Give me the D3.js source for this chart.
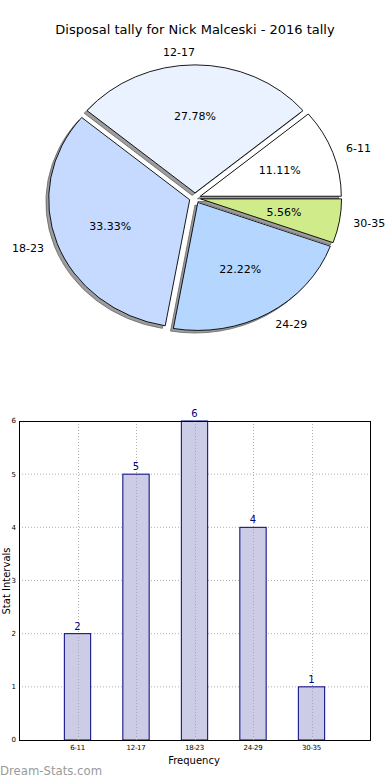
<!DOCTYPE html>
<html>
<head>
<meta charset="utf-8">
<script src="https://cdn.jsdelivr.net/npm/d3@7"></script>
<style>
  html, body { margin: 0; padding: 0; background: #fff; }
  svg { display: block; font-family: "DejaVu Sans", sans-serif; }
</style>
</head>
<body>
<svg id="chart" width="390" height="780"></svg>
<script>
// ---- data ----
const title = "Disposal tally for Nick Malceski - 2016 tally";
const categories = ["6-11", "12-17", "18-23", "24-29", "30-35"];
const counts = [2, 5, 6, 4, 1];
const sliceColors = ["#ffffff", "#eaf2ff", "#c6d9ff", "#b4d6ff", "#d0eb8a"];
const yTicks = [0, 1, 2, 3, 4, 5, 6];
const xLabel = "Frequency";
const yLabel = "Stat Intervals";
const watermark = "Dream-Stats.com";

const svg = d3.select("#chart");

// ---- title ----
svg.append("text").attr("x", 195).attr("y", 34).attr("text-anchor", "middle")
  .attr("font-size", 13).attr("fill", "#000").text(title);

// ---- pie ----
const cx = 195, cy = 198, rx = 141, ry = 128, explode = 0.04;
const sy = ry / rx;
const total = d3.sum(counts);
const pie = d3.pie().sort(null).startAngle(Math.PI / 2).endAngle(Math.PI / 2 - 2 * Math.PI);
const arcs = pie(counts);
const arc = d3.arc().innerRadius(0).outerRadius(rx);

const pg = svg.append("g").attr("transform", `translate(${cx},${cy}) scale(1,${sy})`);
arcs.forEach((a, i) => {
  const mid = (a.startAngle + a.endAngle) / 2;
  const ox = explode * rx * Math.sin(mid), oy = -explode * rx * Math.cos(mid);
  // shadow
  pg.append("path").attr("d", arc(a))
    .attr("transform", `translate(${ox - 0.02 * rx},${oy + 0.02 * rx})`)
    .attr("fill", "#8c8c8c").attr("fill-opacity", 0.85)
    .attr("stroke", "#666").attr("stroke-width", 0.8)
    .attr("vector-effect", "non-scaling-stroke");
  // wedge
  pg.append("path").attr("d", arc(a))
    .attr("transform", `translate(${ox},${oy})`)
    .attr("fill", sliceColors[i]).attr("stroke", "#000").attr("stroke-width", 0.9)
    .attr("vector-effect", "non-scaling-stroke");
});
// labels
arcs.forEach((a, i) => {
  const mid = (a.startAngle + a.endAngle) / 2;
  const ux = Math.sin(mid), uy = -Math.cos(mid);
  const bx = cx + explode * rx * ux, by = cy + explode * ry * uy;
  const lx = bx + 1.1 * rx * ux, ly = by + 1.1 * ry * uy;
  svg.append("text").attr("x", lx).attr("y", ly).attr("dy", "0.35em")
    .attr("text-anchor", ux > 0 ? "start" : "end")
    .attr("font-size", 11).text(categories[i]);
  const px = bx + 0.6 * rx * ux, py = by + 0.6 * ry * uy;
  svg.append("text").attr("x", px).attr("y", py).attr("dy", "0.35em")
    .attr("text-anchor", "middle").attr("font-size", 11)
    .text((counts[i] / total * 100).toFixed(2) + "%");
});

// ---- bar chart ----
const x0 = 19, x1 = 370, y0 = 740, y1 = 421;
const x = d3.scaleLinear().domain([0, categories.length + 1]).range([x0, x1]);
const y = d3.scaleLinear().domain([0, 6]).range([y0, y1]);
const barW = 0.45;
const bg = svg.append("g");

// grid
bg.selectAll(".hg").data(yTicks.filter(t => t > 0 && t < 6)).enter().append("line")
  .attr("x1", x0).attr("x2", x1).attr("y1", d => y(d)).attr("y2", d => y(d))
  .attr("stroke", "#b0b0b0").attr("stroke-dasharray", "1,2").attr("stroke-width", 1);
bg.selectAll(".vg").data(categories).enter().append("line")
  .attr("x1", (d, i) => Math.round(x(i + 1)) + 0.5).attr("x2", (d, i) => Math.round(x(i + 1)) + 0.5)
  .attr("y1", y0).attr("y2", y1)
  .attr("stroke", "#b0b0b0").attr("stroke-dasharray", "1,2").attr("stroke-width", 1);

// bars
bg.selectAll(".bar").data(counts).enter().append("rect")
  .attr("x", (d, i) => x(i + 1 - barW / 2)).attr("width", x(barW) - x(0))
  .attr("y", d => y(d)).attr("height", d => y0 - y(d))
  .attr("fill", "#cccce6").attr("stroke", "#000080").attr("stroke-width", 1);
bg.selectAll(".vg2").data(categories).enter().append("line")
  .attr("x1", (d, i) => Math.round(x(i + 1)) + 0.5).attr("x2", (d, i) => Math.round(x(i + 1)) + 0.5)
  .attr("y1", d => y0).attr("y2", (d, i) => y(counts[i]))
  .attr("stroke", "#a8a8b8").attr("stroke-dasharray", "1,2").attr("stroke-width", 1);

// value labels
bg.selectAll(".vl").data(counts).enter().append("text")
  .attr("x", (d, i) => x(i + 1)).attr("y", d => y(d) - 4)
  .attr("text-anchor", "middle").attr("font-size", 10).attr("fill", "#000080")
  .text(d => d);

// frame
bg.append("rect").attr("x", x0 + 0.5).attr("y", y1 + 0.5).attr("width", x1 - x0).attr("height", y0 - y1)
  .attr("fill", "none").attr("stroke", "#000").attr("stroke-width", 1);

// y ticks
bg.selectAll(".yt").data(yTicks).enter().append("text")
  .attr("x", x0 - 3).attr("y", d => y(d)).attr("dy", "0.35em")
  .attr("text-anchor", "end").attr("font-size", 7).text(d => d);
// x ticks
bg.selectAll(".xt").data(categories).enter().append("text")
  .attr("x", (d, i) => x(i + 1)).attr("y", y0 + 10)
  .attr("text-anchor", "middle").attr("font-size", 7).attr("letter-spacing", -0.3).text(d => d);

// axis labels
svg.append("text").attr("x", 194).attr("y", 764).attr("text-anchor", "middle")
  .attr("font-size", 10).text(xLabel);
svg.append("text").attr("transform", "translate(10,581) rotate(-90)").attr("text-anchor", "middle")
  .attr("font-size", 10).text(yLabel);

// watermark
svg.append("text").attr("x", 0).attr("y", 775).attr("font-size", 11.7)
  .attr("fill", "#9a9a9a").text(watermark);
</script>
</body>
</html>
